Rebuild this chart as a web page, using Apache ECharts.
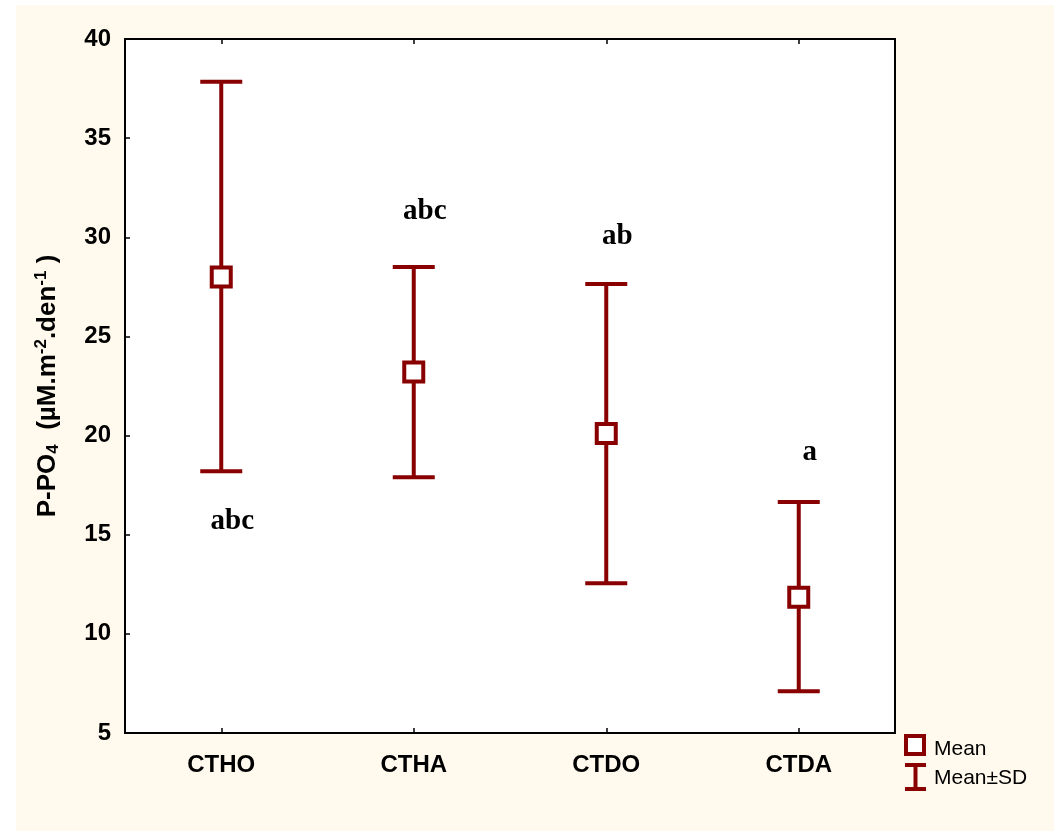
<!DOCTYPE html>
<html><head><meta charset="utf-8">
<script src="https://cdn.jsdelivr.net/npm/echarts@6/dist/echarts.min.js"></script>
<style>html,body{margin:0;padding:0;background:#fff}#c{width:1061px;height:831px}</style>
</head><body><div id="c"></div>
<script>
const categories = ['CTHO', 'CTHA', 'CTDO', 'CTDA'];
const means = [28.0, 23.2, 20.1, 11.85];
const upperSD = [37.85, 28.5, 27.65, 16.65];
const lowerSD = [18.2, 17.9, 12.55, 7.1];
const letters = ['abc', 'abc', 'ab', 'a'];
const letterY = [15.65, 31.3, 30.05, 19.15];
const yTicks = [5, 10, 15, 20, 25, 30, 35, 40];
const legendNames = ['Mean', 'Mean±SD'];

const RED = '#880000';
const FONT = 'Arial, Liberation Sans';
const chart = echarts.init(document.getElementById('c'), null, {renderer: 'canvas'});
chart.setOption({
  animation: false,
  backgroundColor: '#ffffff',
  graphic: [
    {type: 'rect', z: -10, shape: {x: 16, y: 5, width: 1038, height: 826}, style: {fill: '#FFF9EE'}},
    {type: 'rect', z: 10, shape: {x: 906, y: 736, width: 18, height: 18}, style: {fill: '#fff', stroke: RED, lineWidth: 4}},
    {type: 'text', z: 10, x: 934, y: 749, style: {text: legendNames[0], font: '21px ' + FONT, fill: '#000', verticalAlign: 'middle'}},
    {type: 'line', z: 10, shape: {x1: 915.5, y1: 765, x2: 915.5, y2: 789}, style: {stroke: RED, lineWidth: 4}},
    {type: 'line', z: 10, shape: {x1: 905, y1: 765, x2: 926, y2: 765}, style: {stroke: RED, lineWidth: 4}},
    {type: 'line', z: 10, shape: {x1: 905, y1: 789, x2: 926, y2: 789}, style: {stroke: RED, lineWidth: 4}},
    {type: 'text', z: 10, x: 934, y: 778, style: {text: legendNames[1], font: '21px ' + FONT, fill: '#000', verticalAlign: 'middle'}}
  ],
  grid: {left: 125, top: 39, width: 770, height: 694, show: true, backgroundColor: '#ffffff', borderColor: '#000', borderWidth: 2},
  xAxis: [{
    type: 'category', data: categories, boundaryGap: true,
    axisLine: {show: true, lineStyle: {color: '#000', width: 2}},
    axisTick: {show: true, inside: true, alignWithLabel: true, length: 5, lineStyle: {color: '#000', width: 1.5}},
    axisLabel: {fontFamily: FONT, fontWeight: 'bold', fontSize: 24, color: '#000', margin: 20},
    splitLine: {show: false}
  }, {
    type: 'category', data: categories, boundaryGap: true, position: 'top',
    axisLine: {show: true, lineStyle: {color: '#000', width: 2}},
    axisTick: {show: true, inside: true, alignWithLabel: true, length: 5, lineStyle: {color: '#000', width: 1.5}},
    axisLabel: {show: false}
  }],
  yAxis: {
    type: 'value', min: 5, max: 40, interval: 5,
    name: '{b|P-PO}{sub|4}{b|  (µM.m}{sup|-2}{b|.den}{sup|-1}{b| )}',
    nameLocation: 'middle', nameGap: 63, nameRotate: 90,
    nameTextStyle: {
      rich: {
        b: {fontFamily: FONT, fontWeight: 'bold', fontSize: 26, color: '#000'},
        sub: {fontFamily: FONT, fontWeight: 'bold', fontSize: 17, color: '#000', verticalAlign: 'bottom', padding: [12,0,0,0]},
        sup: {fontFamily: FONT, fontWeight: 'bold', fontSize: 17, color: '#000', verticalAlign: 'top', padding: [0,0,12,0]}
      }
    },
    axisLine: {show: true, lineStyle: {color: '#000', width: 2}},
    axisTick: {show: true, inside: true, length: 5, lineStyle: {color: '#000', width: 1.5}},
    axisLabel: {fontFamily: FONT, fontWeight: 'bold', fontSize: 24, color: '#000', margin: 14,
      formatter: v => yTicks.includes(v) ? String(v) : ''},
    splitLine: {show: false}
  },
  series: [
    {
      name: 'Mean±SD', type: 'custom', z: 3,
      data: categories.map((c, i) => [i, lowerSD[i], upperSD[i]]),
      renderItem: function (params, api) {
        const x = api.coord([api.value(0), 0])[0];
        const lo = api.coord([api.value(0), api.value(1)])[1];
        const hi = api.coord([api.value(0), api.value(2)])[1];
        const hw = 21;
        const st = {stroke: RED, lineWidth: 4, fill: null};
        return {type: 'group', children: [
          {type: 'line', shape: {x1: x, y1: lo, x2: x, y2: hi}, style: st},
          {type: 'line', shape: {x1: x - hw, y1: hi, x2: x + hw, y2: hi}, style: st},
          {type: 'line', shape: {x1: x - hw, y1: lo, x2: x + hw, y2: lo}, style: st}
        ]};
      },
      itemStyle: {color: RED}
    },
    {
      name: 'Mean', type: 'scatter', z: 5, data: means,
      symbol: 'rect', symbolSize: 19,
      itemStyle: {color: '#fff', borderColor: RED, borderWidth: 4, opacity: 1}
    },
    {
      name: 'letters', type: 'scatter', z: 6, silent: true,
      data: letters.map((t, i) => ({value: [i, letterY[i]], name: t})),
      symbolSize: 0, itemStyle: {opacity: 1},
      label: {show: true, position: 'inside', offset: [11, 0], formatter: p => p.name,
        fontFamily: 'Times New Roman, Liberation Serif', fontWeight: 'bold', fontSize: 29, color: '#000', opacity: 1}
    }
  ]
});
</script></body></html>
